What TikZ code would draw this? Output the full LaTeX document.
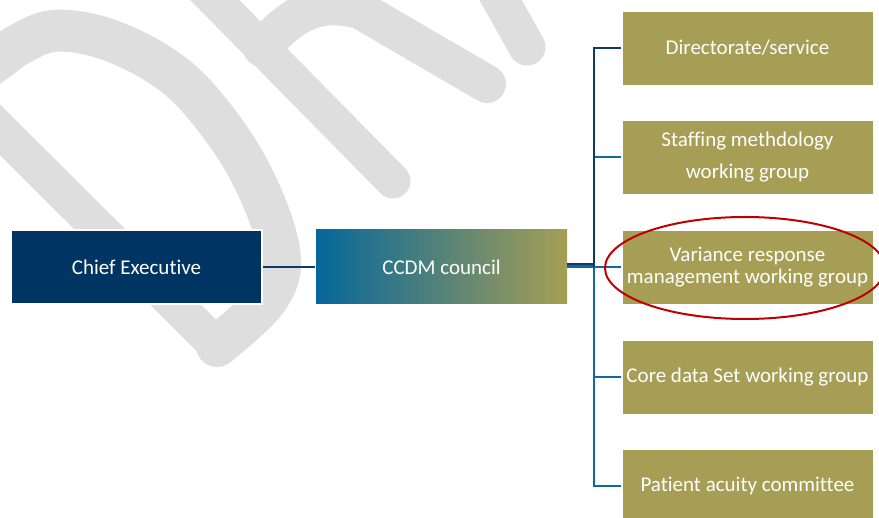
\documentclass[tikz,border=0pt]{standalone}
\usepackage{fontspec}
\setmainfont{Carlito}[Ligatures=NoCommon]
\usetikzlibrary{shapes.geometric}
\definecolor{cenavy}{HTML}{003462}
\definecolor{linenavy}{HTML}{0E3A6B}
\definecolor{lineblue}{HTML}{0F69A0}
\definecolor{olive}{HTML}{A69E55}
\definecolor{gradblue}{HTML}{05679B}
\definecolor{wmgrey}{HTML}{DEDEDE}
\definecolor{ovalred}{HTML}{C00000}
\begin{document}
\begin{tikzpicture}[x=1pt,y=-1pt,
  box/.style={rectangle, minimum width=251pt, minimum height=74pt, inner sep=0pt,
    text=white, font=\fontsize{21}{25}\selectfont, align=center,
    draw=white, line width=0.8pt},
  olivebox/.style={box, fill=olive},
  wm/.style={draw=wmgrey, line cap=round, line join=round},
  conn/.style={line width=1.6pt, shorten >=1pt}
]
\useasboundingbox (0,0) rectangle (879,518);
\clip (0,0) rectangle (879,518);
% watermark
\draw[wm, line width=36pt] (-40,90) -- (217,346);
\draw[wm, line width=42pt] plot[smooth, tension=0.6] coordinates {(-30,80) (0,58) (20,44) (53,31) (100,37) (155,62) (200,100) (249,170) (279,250) (268,298) (217,346)};
\draw[wm, line width=35pt] (195,-20) -- (393,181);
\draw[wm, line width=38pt] (262,48) .. controls (295,10) and (320,0) .. (360,10) -- (487,84);
\draw[wm, line width=37pt] (495,-10) -- (527,47);
% nodes
\node[box, fill=cenavy, line width=1.2pt] (ce) at (136.5,267) {Chief Executive};
\node[box, left color=gradblue, right color=olive, draw=none] (ccdm) at (441.5,267) {CCDM council};
\coordinate (hub) at (594,267);
\draw[conn, linenavy] (ce.east) -- (ccdm.west);
\draw[line width=5pt, lineblue] ([yshift=1.5pt]ccdm.east) -- ([yshift=1.5pt]hub);
\draw[line width=2.5pt, linenavy] ([yshift=3pt]ccdm.east) -- ([yshift=3pt]hub);
\node[olivebox] (b1) at (747.5,48) {Directorate/service};
\node[olivebox, font=\fontsize{21}{32}\selectfont] (b2) at (747.5,157) {Staffing methdology\\working group};
\node[olivebox, font=\fontsize{21}{22.5}\selectfont] (b3) at (747.5,267) {Variance response\\management working group};
\node[olivebox] (b4) at (747.5,377) {Core data Set working group};
\node[olivebox] (b5) at (747.5,486) {Patient acuity committee};
\draw[conn, lineblue] (hub) |- (b5.west);
\draw[conn, lineblue] (hub) |- (b4.west);
\draw[conn, lineblue] (hub) |- (b3.west);
\draw[conn, lineblue] (hub) |- (b2.west);
\draw[conn, linenavy] (hub) |- (b1.west);
\node[draw=ovalred, line width=2pt, ellipse, minimum width=280pt, minimum height=102pt, inner sep=0pt] (highlight) at (745,268) {};
\end{tikzpicture}
\end{document}
